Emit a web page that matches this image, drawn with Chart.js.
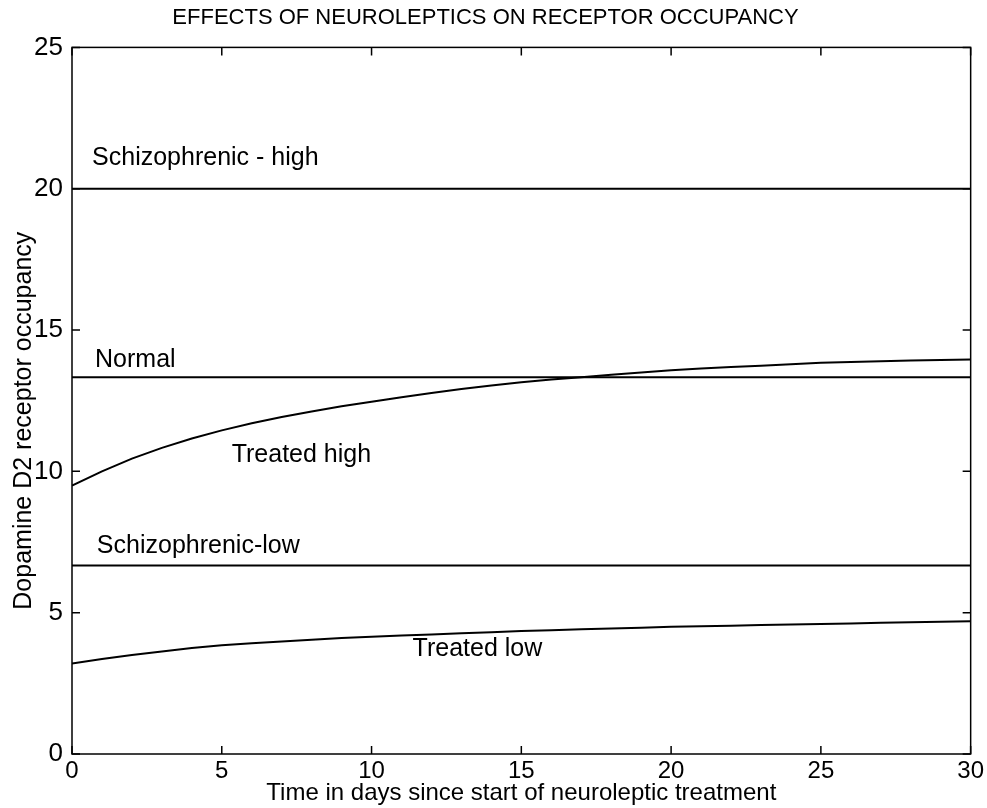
<!DOCTYPE html>
<html>
<head>
<meta charset="utf-8">
<script src="https://cdn.jsdelivr.net/npm/chart.js@4.4.1/dist/chart.umd.min.js"></script>
<style>
  html, body { margin: 0; padding: 0; background: #ffffff; }
  #wrap { width: 987px; height: 808px; }
</style>
</head>
<body>
<div id="wrap"><canvas id="c" width="987" height="808"></canvas></div>
<script>
// ---- data ----
const days = [0,1,2,3,4,5,6,7,8,9,10,11,12,13,14,15,16,17,18,19,20,21,22,23,24,25,26,27,28,29,30];
const treatedHigh = [9.50,10.00,10.45,10.83,11.16,11.45,11.70,11.92,12.12,12.30,12.46,12.62,12.77,12.91,13.04,13.15,13.25,13.33,13.42,13.50,13.58,13.64,13.69,13.74,13.79,13.84,13.87,13.90,13.92,13.94,13.96];
const treatedLow = [3.20,3.36,3.50,3.63,3.75,3.85,3.92,3.98,4.04,4.10,4.15,4.19,4.23,4.27,4.31,4.35,4.38,4.41,4.44,4.47,4.50,4.52,4.54,4.56,4.58,4.60,4.62,4.64,4.66,4.68,4.70];
const levelDays = [0, 30];
const schizHigh = [20, 20];
const normalLevel = [13.33, 13.33];
const schizLow = [6.67, 6.67];
const xTicks = [0, 5, 10, 15, 20, 25, 30];
const yTicks = [0, 5, 10, 15, 20, 25];
const labelTexts = ["Schizophrenic - high", "Normal", "Treated high", "Schizophrenic-low", "Treated low"];
const labelDays = [0.67, 0.77, 5.33, 0.83, 11.37];
const labelValues = [21.07, 13.93, 10.57, 7.35, 3.71];

const titleText = "EFFECTS OF NEUROLEPTICS ON RECEPTOR OCCUPANCY";
const xTitle = "Time in days since start of neuroleptic treatment";
const yTitle = "Dopamine D2 receptor occupancy";

const FONT = "'Liberation Sans', Arial, Helvetica, sans-serif";

function pts(xs, ys) { return xs.map((x, i) => ({x: x, y: ys[i]})); }

const lineStyle = { borderColor: '#000', borderWidth: 2, pointRadius: 0, fill: false, tension: 0 };

const framePlugin = {
  id: 'frame',
  afterDatasetsDraw(chart) {
    const {ctx, chartArea: a, scales} = chart;
    ctx.save();
    ctx.strokeStyle = '#000';
    ctx.lineWidth = 1.5;
    ctx.strokeRect(a.left, a.top, a.right - a.left, a.bottom - a.top);
    const tl = 8;
    ctx.beginPath();
    xTicks.forEach(v => {
      const px = scales.x.getPixelForValue(v);
      ctx.moveTo(px, a.bottom); ctx.lineTo(px, a.bottom - tl);
      ctx.moveTo(px, a.top); ctx.lineTo(px, a.top + tl);
    });
    yTicks.forEach(v => {
      const py = scales.y.getPixelForValue(v);
      ctx.moveTo(a.left, py); ctx.lineTo(a.left + tl, py);
      ctx.moveTo(a.right, py); ctx.lineTo(a.right - tl, py);
    });
    ctx.stroke();
    ctx.fillStyle = '#000';
    // annotations
    ctx.font = "25px " + FONT;
    ctx.textAlign = 'left';
    ctx.textBaseline = 'middle';
    labelTexts.forEach((t, i) => {
      ctx.fillText(t, scales.x.getPixelForValue(labelDays[i]), scales.y.getPixelForValue(labelValues[i]));
    });
    // y axis title
    ctx.save();
    ctx.translate(24, (a.top + a.bottom) / 2 + 20);
    ctx.rotate(-Math.PI / 2);
    ctx.textAlign = 'center';
    ctx.textBaseline = 'middle';
    ctx.font = "25px " + FONT;
    ctx.fillText(yTitle, 0, 0);
    ctx.restore();
    ctx.restore();
  }
};

new Chart(document.getElementById('c'), {
  type: 'line',
  data: {
    datasets: [
      Object.assign({ label: 'Schizophrenic - high', data: pts(levelDays, schizHigh) }, lineStyle),
      Object.assign({ label: 'Normal', data: pts(levelDays, normalLevel) }, lineStyle),
      Object.assign({ label: 'Schizophrenic-low', data: pts(levelDays, schizLow) }, lineStyle),
      Object.assign({ label: 'Treated high', data: pts(days, treatedHigh) }, lineStyle),
      Object.assign({ label: 'Treated low', data: pts(days, treatedLow) }, lineStyle)
    ]
  },
  options: {
    responsive: false,
    animation: false,
    devicePixelRatio: 1,
    layout: { padding: { left: 0, right: 16, top: 0, bottom: 0 } },
    plugins: {
      legend: { display: false },
      tooltip: { enabled: false },
      title: {
        display: true,
        text: titleText,
        color: '#000',
        font: { family: FONT, size: 22, weight: 'normal' },
        padding: { top: 5, bottom: 16 }
      }
    },
    scales: {
      x: {
        type: 'linear', min: 0, max: 30,
        grid: { display: false, drawTicks: false },
        border: { display: false },
        ticks: { stepSize: 5, color: '#000', font: { family: FONT, size: 24 }, padding: 3, maxRotation: 0 },
        title: { display: true, text: xTitle, color: '#000', font: { family: FONT, size: 24 }, padding: { top: 0, bottom: 0 } },
        afterFit(s) { s.height = 54; }
      },
      y: {
        type: 'linear', min: 0, max: 25,
        grid: { display: false, drawTicks: false },
        border: { display: false },
        ticks: { stepSize: 5, color: '#000', font: { family: FONT, size: 26 }, padding: 9 },
        title: { display: false },
        afterFit(s) { s.width = 72; }
      }
    }
  },
  plugins: [framePlugin]
});
</script>
</body>
</html>
